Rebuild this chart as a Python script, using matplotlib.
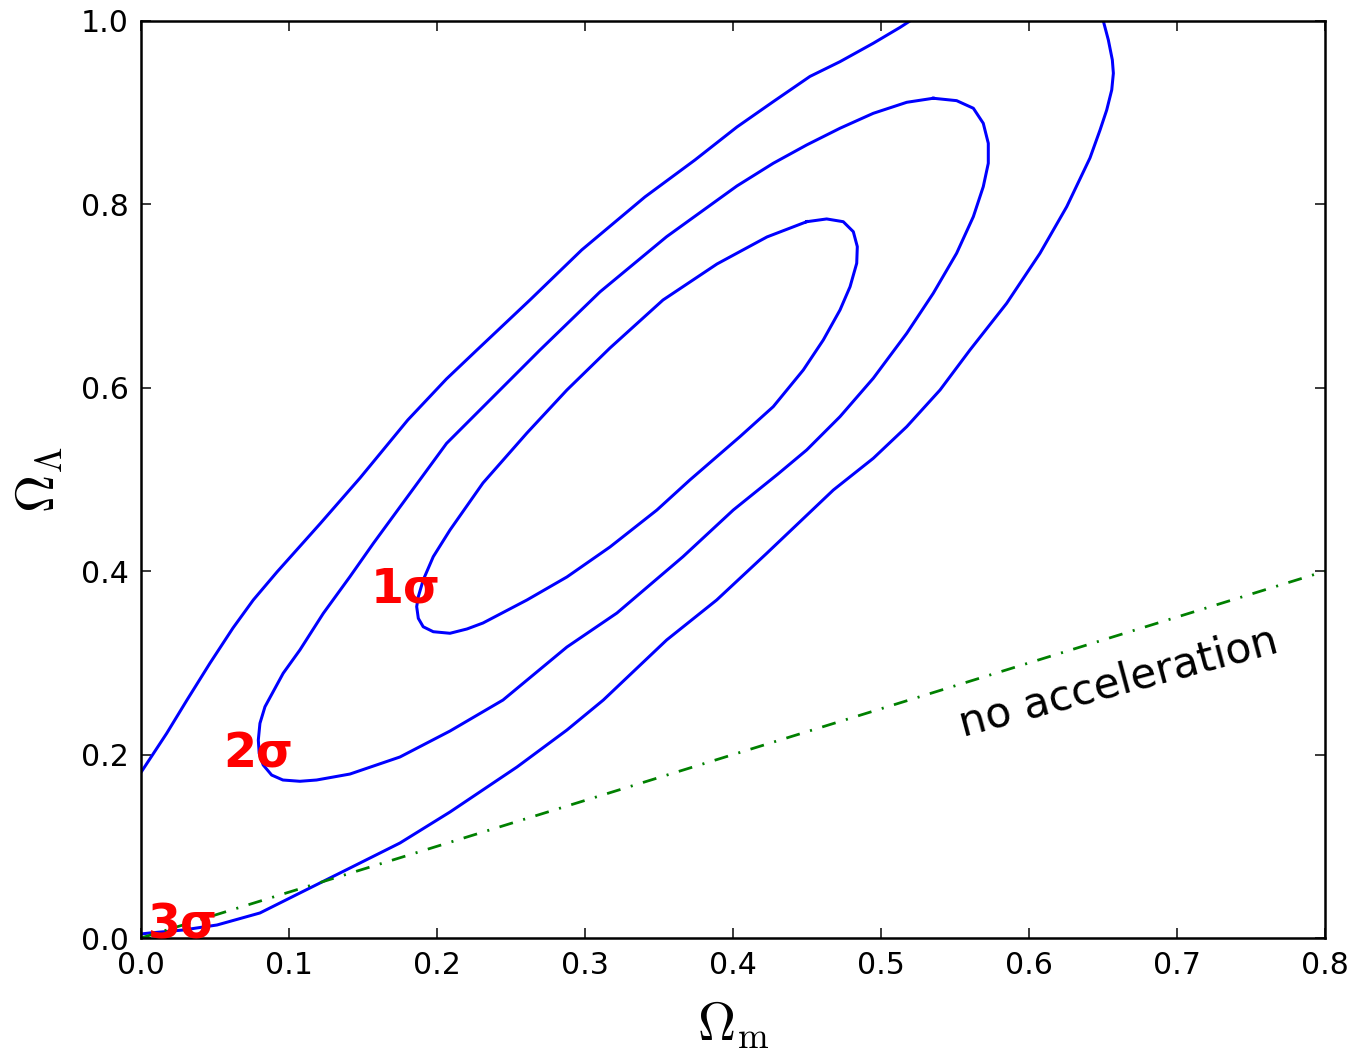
import matplotlib
matplotlib.use("Agg")
import matplotlib.pyplot as plt

# contour traces (Omega_m, Omega_Lambda)
sig1_x = [0.4498, 0.4633, 0.4745, 0.4813, 0.4840, 0.4836, 0.4791, 0.4723, 0.4610, 0.4475,
          0.4272, 0.4047, 0.3709, 0.3486, 0.3169, 0.2878, 0.2608, 0.2311, 0.2203, 0.2088,
          0.1975, 0.1907, 0.1874, 0.1863, 0.1874, 0.1907, 0.1975, 0.2088, 0.2311, 0.2608,
          0.2878, 0.3169, 0.3527, 0.3892, 0.4230, 0.4498]
sig1_y = [0.7811, 0.7841, 0.7811, 0.7702, 0.7539, 0.7358, 0.7102, 0.6848, 0.6521, 0.6194,
          0.5794, 0.5467, 0.4995, 0.4667, 0.4264, 0.3937, 0.3686, 0.3435, 0.3370, 0.3323,
          0.3340, 0.3394, 0.3486, 0.3613, 0.3722, 0.3904, 0.4158, 0.4449, 0.4962, 0.5507,
          0.5976, 0.6434, 0.6957, 0.7350, 0.7645, 0.7811]

sig2_x = [0.5353, 0.5511, 0.5624, 0.5691, 0.5725, 0.5725, 0.5691, 0.5624, 0.5511, 0.5353,
          0.5174, 0.4948, 0.4723, 0.4498, 0.4304, 0.4002, 0.3662, 0.3216, 0.2878, 0.2446,
          0.2088, 0.1750, 0.1412, 0.1187, 0.1074, 0.0959, 0.0883, 0.0826, 0.0799, 0.0793,
          0.0804, 0.0838, 0.0961, 0.1074, 0.1232, 0.1412, 0.1570, 0.1750, 0.2065, 0.2311,
          0.2696, 0.3101, 0.3552, 0.4027, 0.4272, 0.4498, 0.4723, 0.4948, 0.5174, 0.5353]
sig2_y = [0.9157, 0.9131, 0.9048, 0.8884, 0.8666, 0.8448, 0.8193, 0.7866, 0.7467, 0.7030,
          0.6594, 0.6104, 0.5685, 0.5322, 0.5060, 0.4667, 0.4158, 0.3544, 0.3173, 0.2595,
          0.2257, 0.1974, 0.1788, 0.1723, 0.1709, 0.1723, 0.1777, 0.1887, 0.2013, 0.2159,
          0.2341, 0.2522, 0.2887, 0.3141, 0.3540, 0.3940, 0.4303, 0.4700, 0.5394, 0.5791,
          0.6412, 0.7045, 0.7648, 0.8201, 0.8448, 0.8648, 0.8830, 0.8993, 0.9113, 0.9157]

# outer contour leaves the frame, so it is two open pieces
sig3_x = [0.0, 0.0174, 0.0311, 0.0466, 0.0622, 0.0759, 0.0919, 0.1209, 0.1480, 0.1803,
          0.2064, 0.2270, 0.2628, 0.2978, 0.3405, 0.3743, 0.4027, 0.4272, 0.4520, 0.4723,
          0.4948, 0.5128, 0.5196]
sig3_y = [0.1805, 0.2232, 0.2595, 0.2996, 0.3381, 0.3686, 0.3991, 0.4515, 0.5016, 0.5649,
          0.6096, 0.6412, 0.6957, 0.7503, 0.8081, 0.8484, 0.8844, 0.9120, 0.9395, 0.9556,
          0.9757, 0.9929, 1.0]
sig3r_x = [0.6502, 0.6536, 0.6563, 0.6570, 0.6559, 0.6525, 0.6480, 0.6412, 0.6255, 0.6074,
           0.5849, 0.5601, 0.5399, 0.5174, 0.4948, 0.4678, 0.4228, 0.3890, 0.3552, 0.3124,
           0.2878, 0.2541, 0.2088, 0.1750, 0.1412, 0.1074, 0.0804, 0.0514, 0.0284, 0.0061,
           0.0]
sig3r_y = [1.0, 0.9793, 0.9575, 0.9430, 0.9248, 0.9029, 0.8811, 0.8506, 0.7975, 0.7466,
           0.6921, 0.6412, 0.5976, 0.5576, 0.5231, 0.4885, 0.4195, 0.3686, 0.3250, 0.2595,
           0.2268, 0.1865, 0.1374, 0.1036, 0.0763, 0.0491, 0.0273, 0.0142, 0.0087, 0.0055,
           0.0044]

# no-acceleration line, Omega_Lambda = Omega_m / 2
noacc_x = [0.0, 0.8]
noacc_y = [0.0, 0.4]

sigma_labels = ["1σ", "2σ", "3σ"]
sigma_pos = [(0.155, 0.366), (0.0555, 0.1854), (0.005, 0.0)]

plt.rcParams['mathtext.fontset'] = 'cm'

fig = plt.figure(figsize=(7.5, 5.85), dpi=180)
ax = fig.add_axes([0.1044, 0.1092, 0.8771, 0.8709])

blue = '#0000ff'
ax.plot(sig1_x, sig1_y, color=blue, lw=1.2)
ax.plot(sig2_x, sig2_y, color=blue, lw=1.2)
ax.plot(sig3_x, sig3_y, color=blue, lw=1.2)
ax.plot(sig3r_x, sig3r_y, color=blue, lw=1.2)
ax.plot(noacc_x, noacc_y, color='#008000', lw=1.1, linestyle=(0, (5.1, 3.9, 0.75, 3.9)))

for lab, (px, py) in zip(sigma_labels, sigma_pos):
    ax.text(px, py, lab, color='#ff0000', fontsize=19, fontweight='bold',
            ha='left', va='baseline', zorder=5)

ax.text(0.555, 0.22, 'no acceleration', fontsize=17, rotation=15,
        ha='left', va='baseline', rotation_mode='anchor')

ax.set_xlim(0, 0.8)
ax.set_ylim(0, 1.0)
ax.set_xticks([0.0, 0.1, 0.2, 0.3, 0.4, 0.5, 0.6, 0.7, 0.8])
ax.set_yticks([0.0, 0.2, 0.4, 0.6, 0.8, 1.0])
ax.xaxis.set_major_formatter(matplotlib.ticker.FormatStrFormatter('%.1f'))
ax.yaxis.set_major_formatter(matplotlib.ticker.FormatStrFormatter('%.1f'))
ax.tick_params(direction='in', top=True, right=True, length=4, width=0.6,
               labelsize=12, pad=5)
for sp in ax.spines.values():
    sp.set_linewidth(1.0)

ax.set_xlabel(r'$\Omega_{\rm m}$', fontsize=21, labelpad=8)
ax.set_ylabel(r'$\Omega_\Lambda$', fontsize=21, labelpad=6)

fig.savefig('out.png', dpi=180)
